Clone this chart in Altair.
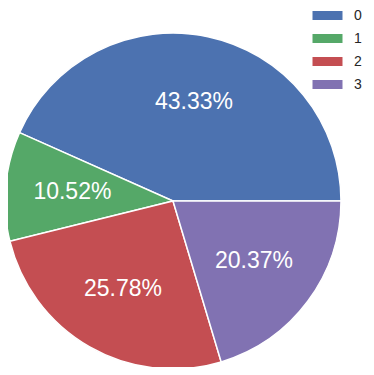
import math
import altair as alt
import pandas as pd

categories = ["0", "1", "2", "3"]
shares = [43.33, 10.52, 25.78, 20.37]
colors = ["#4c72b0", "#55a868", "#c44e52", "#8172b2"]
labels = ["43.33%", "10.52%", "25.78%", "20.37%"]

df = pd.DataFrame({"cat": categories, "share": shares, "label": labels})

theta = alt.Theta("share:Q", stack=True,
                  scale=alt.Scale(range=[math.pi / 2, math.pi / 2 + 2 * math.pi]))
order = alt.Order("cat:N", sort="descending")
color = alt.Color(
    "cat:N",
    scale=alt.Scale(domain=categories, range=colors),
    legend=alt.Legend(
        title=None,
        orient="none",
        legendX=312,
        legendY=0,
        padding=0,
        symbolType="M-2,-0.6H2V0.6H-2Z",
        symbolSize=225,
        symbolStrokeWidth=0,
        symbolOpacity=1,
        rowPadding=8,
        labelOffset=19,
        labelFontSize=14,
        labelFont="Liberation Sans",
        labelColor="#262626",
    ),
)

base = alt.Chart(df).encode(theta=theta, order=order)

pie = base.mark_arc(radius=168, stroke="white", strokeWidth=1.5).encode(
    color=color,
    x=alt.value(165),
    y=alt.value(193),
)

text = base.mark_text(
    radius=101, font="Liberation Sans", fontSize=23, color="white",
    align="center", baseline="middle",
).encode(text="label:N", x=alt.value(165), y=alt.value(193))

chart = alt.layer(pie, text).properties(
    width=358, height=359, autosize=alt.AutoSizeParams(type="none"), padding=0
).configure_view(stroke=None)

chart.save("out.html", embed_options={"renderer": "svg", "actions": False})
